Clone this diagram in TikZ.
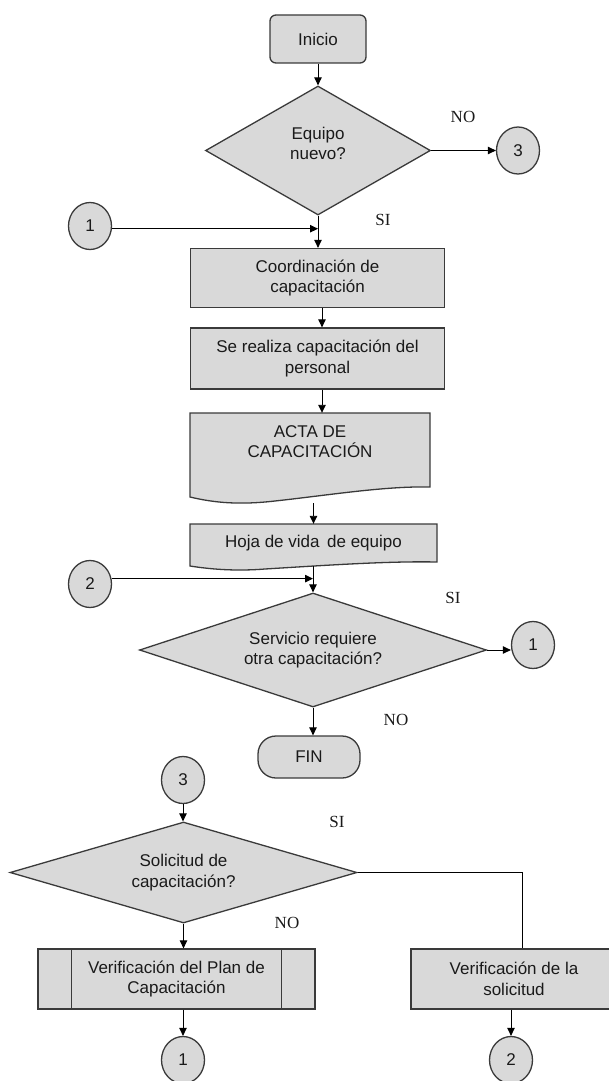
\documentclass[tikz,border=0pt]{standalone}
\usepackage{fontspec}
\setmainfont{Liberation Sans}
\newfontfamily\answerserif{Liberation Serif}
\usetikzlibrary{shapes.geometric,arrows.meta,calc}

\definecolor{boxfill}{HTML}{D9D9D9}
\definecolor{boxline}{HTML}{3A3A3A}
\definecolor{inkc}{HTML}{1A1A1A}

\newcommand{\flowtext}{\fontsize{17}{20.5}\selectfont}
\newcommand{\answertext}{\answerserif\fontsize{17}{19}\selectfont}

\begin{document}
\begin{tikzpicture}[x=1pt,y=-1pt,
  shapebase/.style={draw=boxline, line width=1.3pt, fill=boxfill, text=inkc,
                    font=\flowtext, align=center, inner sep=0pt},
  procbox/.style={shapebase, rectangle},
  startbox/.style={shapebase, rectangle, rounded corners=6pt},
  endbox/.style={shapebase, rectangle, rounded corners=18pt},
  decision/.style={shapebase, diamond},
  connector/.style={shapebase, ellipse, minimum width=43pt, minimum height=47pt},
  ghost/.style={rectangle, draw=none, fill=none, inner sep=0pt},
  labeltext/.style={text=inkc, font=\flowtext, align=center, inner sep=0pt},
  answer/.style={text=inkc, font=\answertext, inner sep=0pt},
  docshape/.style={draw=boxline, line width=1.3pt, fill=boxfill},
  flow/.style={draw=black, line width=0.9pt, -{Triangle[length=8pt,width=7.5pt]}},
  plainflow/.style={draw=black, line width=0.9pt}
]
\useasboundingbox (0,0) rectangle (609,1081);

% ---------- main branch ----------
\node[startbox, minimum width=96pt, minimum height=48pt] (inicio) at (318,39) {Inicio};
\node[decision, minimum width=225pt, minimum height=129pt] (q1) at (318,150.5)
  {Equipo\\nuevo?\\[-6.5pt]\mbox{}};
\node[connector] (c3a) at (518,150.5) {3};
\node[connector] (c1a) at (90,226) {1};

\node[procbox, minimum width=254pt, minimum height=59pt] (coord) at (317.5,278)
  {Coordinación de\\capacitación};
\node[procbox, minimum width=254pt, minimum height=61pt] (realiza) at (317.5,358.5)
  {Se realiza capacitación del\\personal};

% document symbol: acta
\draw[docshape] (190,413) -- (430,413) -- (430,487)
  .. controls (385,486) and (330,495) .. (275,501)
  .. controls (240,505) and (215,503) .. (190,497) -- cycle;
\node[ghost, minimum width=240pt, minimum height=84pt] (actabox) at (310,455) {};
\node[labeltext] (actatext) at (310,441.5) {ACTA DE\\CAPACITACIÓN};

% document symbol: hoja de vida
\draw[docshape] (190,524) -- (437,524) -- (437,562)
  .. controls (390,561) and (330,565) .. (265,569)
  .. controls (240,571) and (215,570) .. (190,566) -- cycle;
\node[ghost, minimum width=247pt, minimum height=42pt] (hojabox) at (313.5,545) {};
\node[labeltext] (hojatext) at (313.5,543) {Hoja de vida\, de equipo};

\node[connector] (c2a) at (90,584) {2};
\node[decision, minimum width=347pt, minimum height=114pt, shape aspect=3] (q2) at (313,650)
  {Servicio requiere\\otra capacitación?};
\node[connector] (c1b) at (533,645) {1};
\node[endbox, minimum width=102pt, minimum height=42pt] (fin) at (309,757) {FIN};

% ---------- branch from connector 3 ----------
\node[connector] (c3b) at (183,780) {3};
\node[decision, minimum width=347pt, minimum height=101pt, shape aspect=3.4] (q3) at (183.5,872.5)
  {Solicitud de\\capacitación?};
\node[procbox, minimum width=277pt, minimum height=60pt] (plan) at (176.5,979)
  {Verificación del Plan de\\Capacitación};
\draw[boxline, line width=1.3pt] ($(plan.north west)+(34,0)$) -- ($(plan.south west)+(34,0)$);
\draw[boxline, line width=1.3pt] ($(plan.north east)+(-34,0)$) -- ($(plan.south east)+(-34,0)$);
\node[procbox, minimum width=206pt, minimum height=60pt] (sol) at (514,979)
  {Verificación de la\\solicitud};
\node[connector] (c1c) at (183,1060) {1};
\node[connector] (c2c) at (511,1060) {2};

% ---------- answers ----------
\node[answer] (no1) at (463,117) {NO};
\node[answer] (si1) at (383,220) {SI};
\node[answer] (si2) at (453,598) {SI};
\node[answer] (no2) at (396,720) {NO};
\node[answer] (si3) at (337,822) {SI};
\node[answer] (no3) at (287,923) {NO};

% ---------- connectors ----------
\draw[flow] (inicio.south) -- (q1.north);
\draw[flow] (q1.east) -- (c3a.west);
\draw[flow] (q1.south) -- (q1.south |- coord.north);
\draw[flow] (c1a.-7) -- (c1a.-7 -| q1.south);
\draw[flow] ($(coord.south)+(4.5,0)$) -- ($(realiza.north)+(4.5,0)$);
\draw[flow] ($(realiza.south)+(4.5,0)$) -- ($(actabox.north)+(12,0)$);
\draw[flow] ($(actabox.south -| hojabox.north)+(0,6)$) -- (hojabox.north);
\draw[flow] (hojabox.south -| q2.north) -- (q2.north);
\draw[flow] (c2a.14) -- (c2a.14 -| q2.north);
\draw[flow] (q2.east) -- (q2.east -| c1b.west);
\draw[flow] (q2.south) -- (q2.south |- fin.north);
\draw[flow] (c3b.south) -- (c3b.south |- q3.north);
\draw[plainflow] (q3.east) -| ($(sol.north)+(8,0)$);
\draw[flow] (q3.south) -- (q3.south |- plan.north);
\draw[flow] (plan.south -| c1c.north) -- (c1c.north);
\draw[flow] (sol.south -| c2c.north) -- (c2c.north);
\end{tikzpicture}
\end{document}
